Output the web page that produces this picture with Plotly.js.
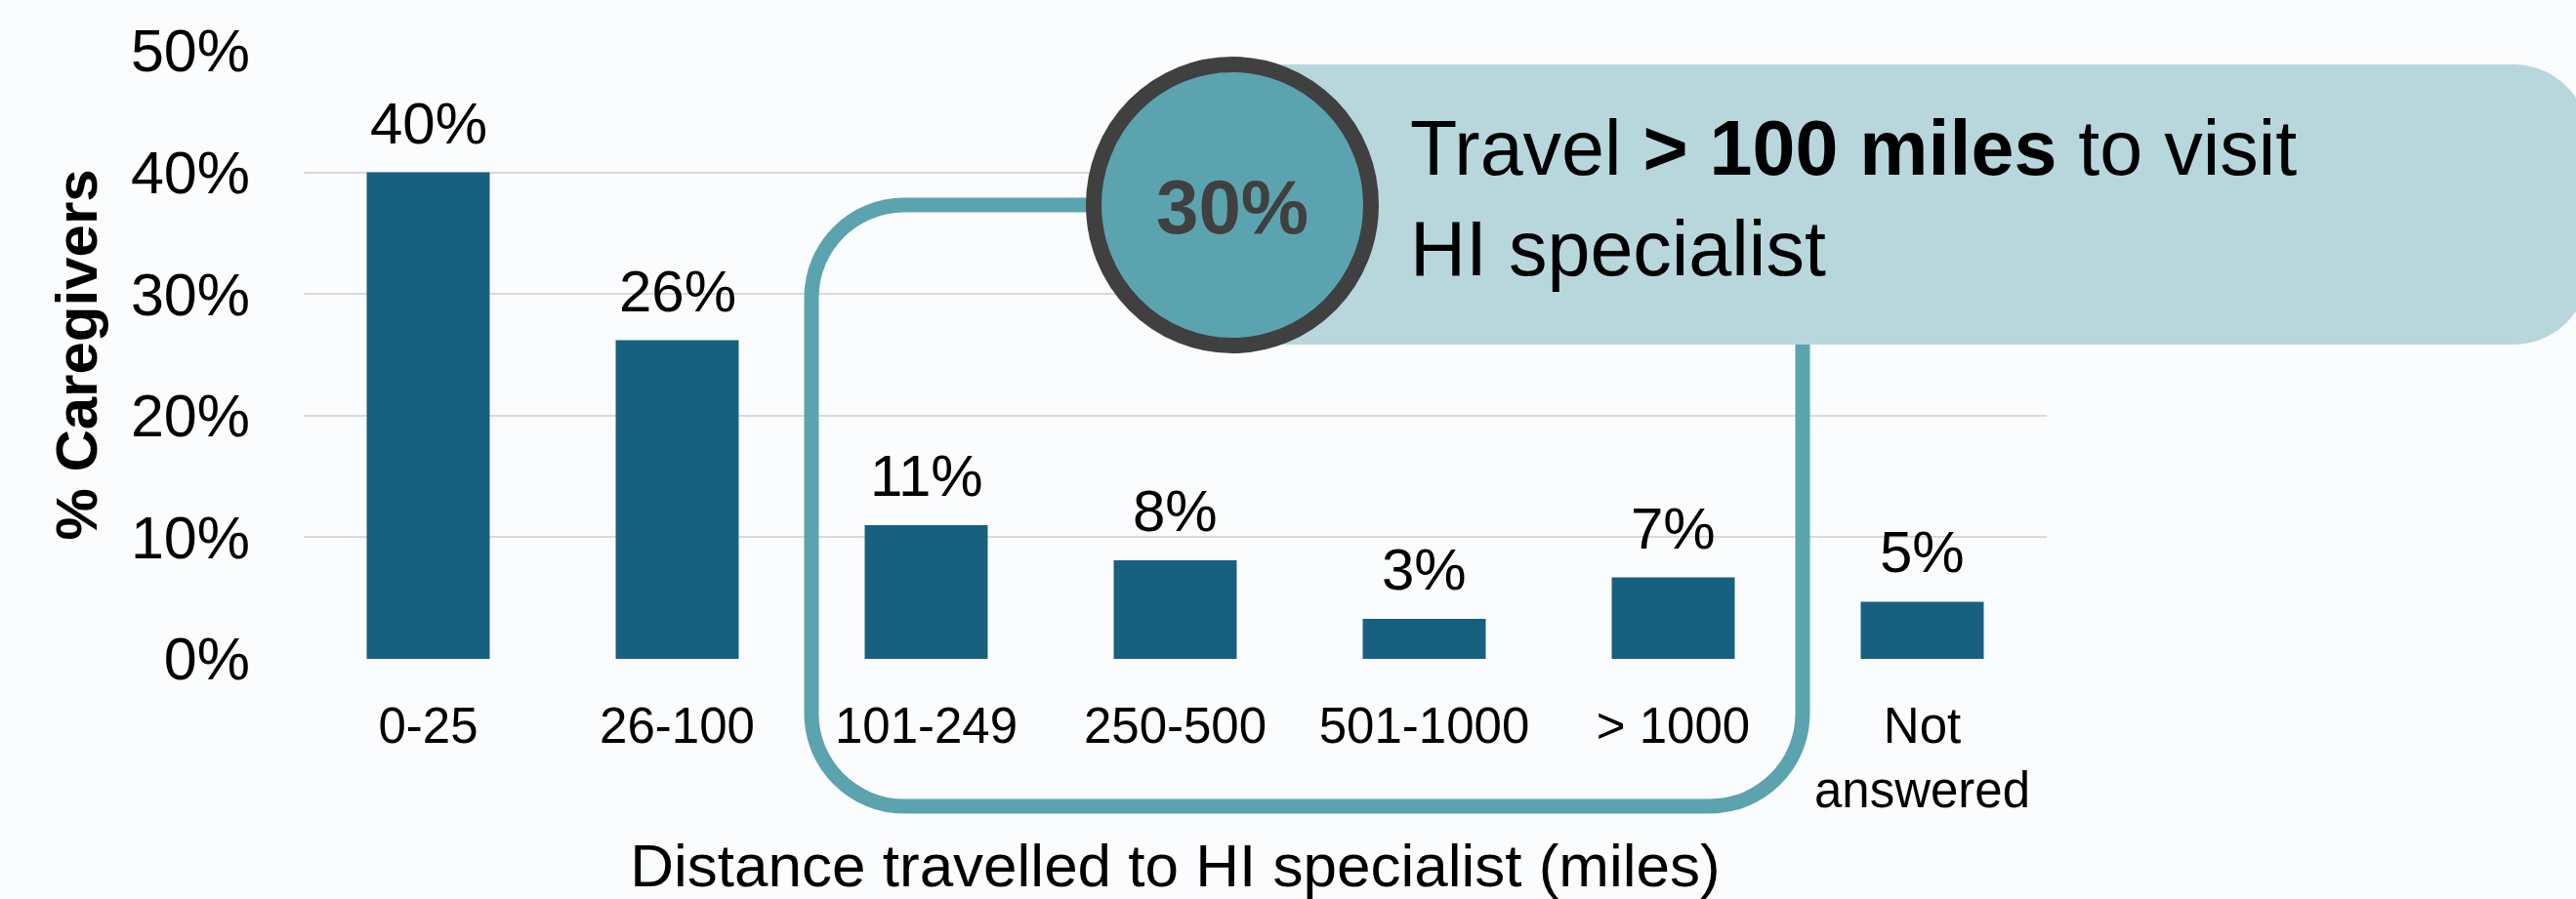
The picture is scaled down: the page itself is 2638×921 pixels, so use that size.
<!DOCTYPE html>
<html>
<head>
<meta charset="utf-8">
<script src="https://cdn.plot.ly/plotly-3.0.1.min.js"></script>
<style>
  html, body { margin: 0; padding: 0; background: #fbfcfe; }
  #chart { width: 2638px; height: 921px; }
</style>
</head>
<body>
<div id="chart"></div>
<script>
// ---- data ----
const categories = ["0-25", "26-100", "101-249", "250-500", "501-1000", "> 1000", "Not<br>answered"];
const shares = [0.400, 0.262, 0.110, 0.081, 0.033, 0.067, 0.047];
const yTickVals = [0, 0.1, 0.2, 0.3, 0.4, 0.5];
const calloutValue = "30%";
const calloutLine1 = "Travel <b>> 100 miles</b> to visit";
const calloutLine2 = "HI specialist";
const xTitle = "Distance travelled to HI specialist (miles)";
const yTitle = "% Caregivers";

// ---- geometry helpers (pixel -> paper) ----
const W = 2638, H = 921;
const L = 311, R = 2096, T = 52, B = 675;
const px = x => (x - L) / (R - L);
const py = y => (B - y) / (B - T);
const FONT = "Liberation Sans, Arial, sans-serif";
const k = 0.552;

function P(x, y) { return px(x).toFixed(5) + "," + py(y).toFixed(5); }

// bracket path
const bl = 831, br = 1846, bt = 210, bb = 826, r = 95;
const bracket = "M" + P(1130, bt) +
  " L" + P(bl + r, bt) +
  " C" + P(bl + r - k * r, bt) + " " + P(bl, bt + r - k * r) + " " + P(bl, bt + r) +
  " L" + P(bl, bb - r) +
  " C" + P(bl, bb - r + k * r) + " " + P(bl + r - k * r, bb) + " " + P(bl + r, bb) +
  " L" + P(br - r, bb) +
  " C" + P(br - r + k * r, bb) + " " + P(br, bb - r + k * r) + " " + P(br, bb - r) +
  " L" + P(br, 300);

// callout box path
const xl = 1262, xr = 2651, yt = 66, yb = 353, rr = 77;
const box = "M" + P(xl, yt) +
  " L" + P(xr - rr, yt) +
  " C" + P(xr - rr + k * rr, yt) + " " + P(xr, yt + rr - k * rr) + " " + P(xr, yt + rr) +
  " L" + P(xr, yb - rr) +
  " C" + P(xr, yb - rr + k * rr) + " " + P(xr - rr + k * rr, yb) + " " + P(xr - rr, yb) +
  " L" + P(xl, yb) + " Z";

const trace = {
  type: "bar",
  x: categories,
  y: shares,
  marker: { color: "#186080" },
  hoverinfo: "skip",
  showlegend: false
};

const valueLabels = categories.map((c, i) => ({
  x: c, y: shares[i], xref: "x", yref: "y",
  text: Math.round(shares[i] * 100) + "%",
  showarrow: false, yanchor: "bottom", yshift: 15,
  font: { family: FONT, size: 60, color: "#000000" }
}));

const layout = {
  width: W, height: H,
  margin: { l: L, r: W - R, t: T, b: H - B, pad: 0 },
  paper_bgcolor: "#fbfcfe",
  plot_bgcolor: "#fbfcfe",
  font: { family: FONT, color: "#000000" },
  bargap: 0.506,
  xaxis: {
    type: "category",
    showgrid: false, zeroline: false, showline: false, ticks: "",
    tickfont: { family: FONT, size: 51, color: "#000000" },
    ticklabelstandoff: 34,
    title: { text: xTitle, font: { family: FONT, size: 62, color: "#000000" }, standoff: 34 }
  },
  yaxis: {
    range: [0, 0.5],
    tickvals: yTickVals,
    tickformat: ".0%",
    showgrid: true, gridcolor: "#d9d9d9", gridwidth: 2,
    zeroline: false, showline: false, ticks: "",
    tickfont: { family: FONT, size: 61, color: "#000000" },
    ticklabelstandoff: 54,
    title: { text: "<b>" + yTitle + "</b>", font: { family: FONT, size: 60, color: "#000000" }, standoff: 14 }
  },
  shapes: [
    { type: "path", xref: "paper", yref: "paper", path: bracket, layer: "above",
      line: { color: "#5ba3af", width: 15 }, fillcolor: "rgba(0,0,0,0)" },
    { type: "path", xref: "paper", yref: "paper", path: box, layer: "above",
      line: { width: 0 }, fillcolor: "#b8d7dc" },
    { type: "circle", xref: "paper", yref: "paper", layer: "above",
      x0: px(1120), x1: px(1404), y0: py(354), y1: py(66),
      line: { color: "#404040", width: 16 }, fillcolor: "#5ba3af" }
  ],
  annotations: valueLabels.concat([
    { xref: "paper", yref: "paper", x: px(1262), y: py(212), text: "<b>" + calloutValue + "</b>",
      showarrow: false, xanchor: "center", yanchor: "middle",
      font: { family: FONT, size: 78, color: "#404040" } },
    { xref: "paper", yref: "paper", x: px(1442), y: py(203), text: calloutLine1 + "<br>" + calloutLine2,
      showarrow: false, xanchor: "left", yanchor: "middle", align: "left",
      font: { family: FONT, size: 79, color: "#000000" } }
  ])
};

Plotly.newPlot("chart", [trace], layout, { displayModeBar: false, staticPlot: true });
</script>
</body>
</html>
